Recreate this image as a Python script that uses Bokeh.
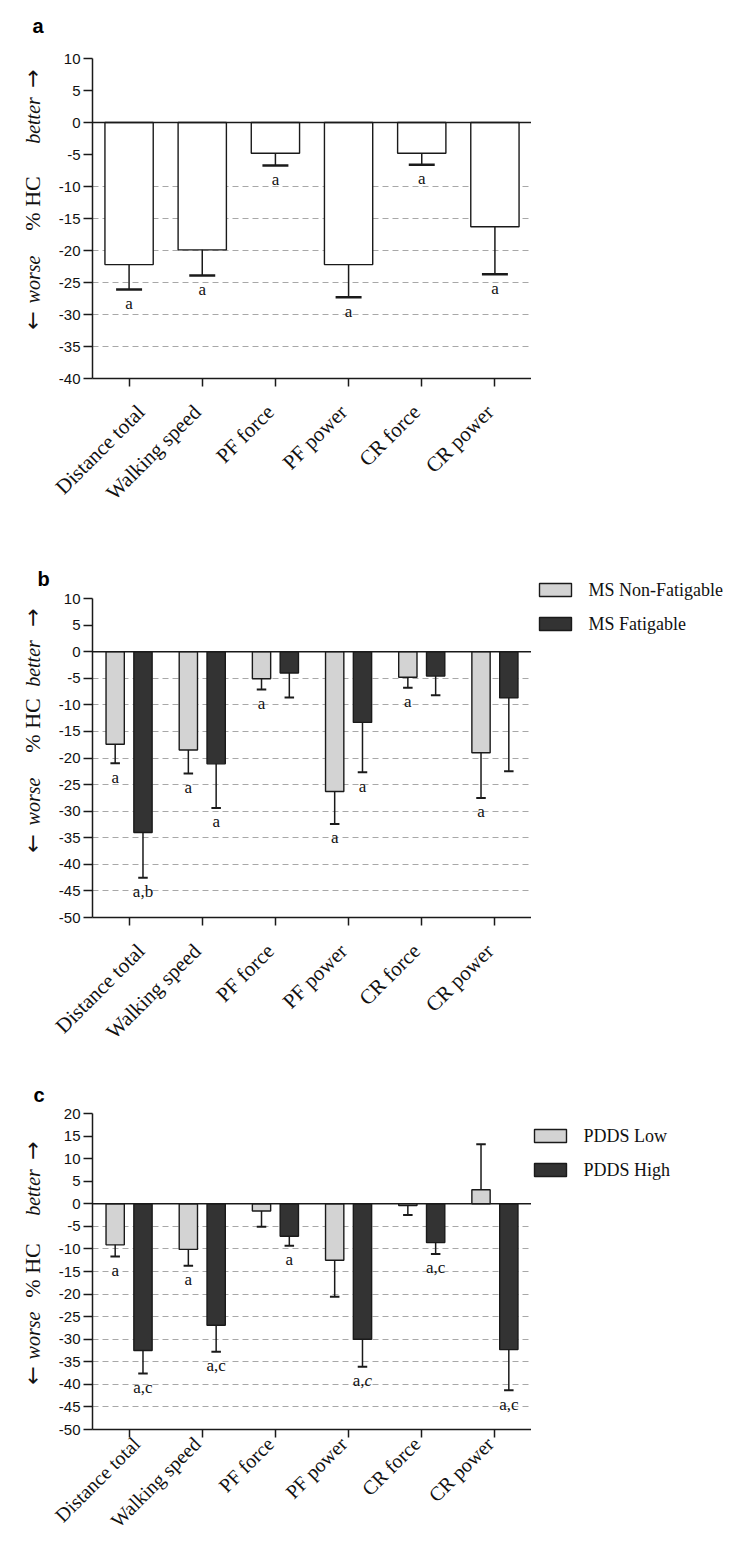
import numpy as np
from bokeh.plotting import figure
from bokeh.models import (ColumnDataSource, Range1d, FixedTicker, Span, LinearAxis)
from bokeh.transform import dodge
from bokeh.layouts import column, row
from bokeh.embed import file_html
from bokeh.resources import INLINE
from bokeh.core.properties import value

# ---------------- data ----------------
categories = ["Distance total", "Walking speed", "PF force", "PF power", "CR force", "CR power"]

# panel a : all MS vs HC
a_mean = [-22.2, -19.9, -4.8, -22.2, -4.8, -16.3]
a_err_end = [-26.1, -23.9, -6.7, -27.3, -6.6, -23.7]
a_annot = ["a", "a", "a", "a", "a", "a"]

# panel b : fatigability groups
b_names = ["MS Non-Fatigable", "MS Fatigable"]
b_nf_mean = [-17.4, -18.5, -5.1, -26.3, -4.8, -19.0]
b_nf_err_end = [-21.0, -22.9, -7.1, -32.4, -6.8, -27.5]
b_nf_annot = ["a", "a", "a", "a", "a", "a"]
b_f_mean = [-34.0, -21.1, -4.0, -13.3, -4.6, -8.7]
b_f_err_end = [-42.5, -29.4, -8.6, -22.7, -8.2, -22.5]
b_f_annot = ["a,b", "a", "", "a", "", ""]

# panel c : PDDS groups
c_names = ["PDDS Low", "PDDS High"]
c_low_mean = [-9.1, -10.1, -1.6, -12.5, -0.4, 3.1]
c_low_err_end = [-11.7, -13.7, -5.1, -20.6, -2.5, 13.2]
c_low_annot = ["a", "a", "", "", "", ""]
c_high_mean = [-32.5, -26.9, -7.2, -30.0, -8.6, -32.3]
c_high_err_end = [-37.6, -32.8, -9.3, -36.1, -11.1, -41.3]
c_high_annot = ["a,c", "a,c", "a", "a,c", "a,c", "a,c"]
c_high_italic_c = [False, False, False, True, False, False]

# ---------------- style / layout ----------------
N = len(categories)
POS = [i + 0.5 for i in range(N)]     # category slots on the x scale
LEFT_W = 50          # strip: panel letter + y title
MAIN_BORDER_L = 42   # room for the y tick labels
FRAME_W = 439
MAIN_W = MAIN_BORDER_L + FRAME_W
RIGHT_W = 739 - LEFT_W - MAIN_W   # strip: legend
PX_PER_CAT = FRAME_W / N
SERIF = "Liberation Serif"
SANS = "Liberation Sans"
ARROW_FONT = "DejaVu Sans"
LIGHT = "#d3d3d3"
DARK = "#333333"
EDGE = "#1a1a1a"
TXT = "#111111"


def strip(width, height, span_h):
    """Figure whose frame lines up with the panel frame; data units = pixels from panel top."""
    f = figure(width=width, height=height, x_range=Range1d(0, width), y_range=Range1d(0, span_h),
               output_backend="svg", toolbar_location=None, x_axis_location=None,
               y_axis_location=None, min_border=0, title=None)
    f.outline_line_color = None
    f.grid.grid_line_color = None
    f.background_fill_color = "white"
    f.border_fill_color = "white"
    return f


def left_strip(height, span_h, row_top, letter, letter_xy, pieces):
    f = strip(LEFT_W, height, span_h)
    f.text(x=[letter_xy[0]], y=[span_h - (letter_xy[1] - row_top)], text=[letter],
           text_font=value(SANS), text_font_size="20px", text_font_style="bold",
           text_align="left", text_baseline="alphabetic", text_color="black")
    styles = {"\u2190": (ARROW_FONT, "normal", "22px"), "\u2192": (ARROW_FONT, "normal", "22px"),
              "worse": (SERIF, "italic", "20px"), "better": (SERIF, "italic", "20px"),
              "% HC": (SERIF, "normal", "22px")}
    for txt, page_y in pieces:
        font, style, size = styles[txt]
        f.text(x=[32], y=[span_h - (page_y - row_top)], text=[txt], angle=np.pi / 2,
               text_font=value(font), text_font_size=size, text_font_style=style,
               text_align="center", text_baseline="alphabetic", text_color=TXT)
    return f


def right_strip(height, span_h, row_top, names, colors, box_x, box1_top, pitch, text_x):
    f = strip(RIGHT_W, height, span_h)
    if names:
        tops = [box1_top - row_top, box1_top - row_top + pitch]
        f.quad(left=[box_x] * 2, right=[box_x + 32] * 2,
               top=[span_h - t for t in tops], bottom=[span_h - t - 13 for t in tops],
               fill_color=colors, line_color=EDGE, line_width=1.4)
        f.text(x=[text_x] * 2, y=[span_h - t - 6.5 for t in tops], text=names,
               text_font=value(SERIF), text_font_size="18px", text_align="left",
               text_baseline="middle", text_color=TXT)
    return f


def main_panel(ymin, ymax, grid_levels, height, top_px, frame_h, label_standoff, label_size):
    """Frame starts at the row top; the y axis itself is bounded to [ymin, ymax]."""
    ppu = frame_h / (ymax - ymin)
    ytop = ymax + top_px / ppu
    p = figure(x_range=Range1d(0, N), y_range=Range1d(ymin, ytop),
               width=MAIN_W, height=height, output_backend="svg", toolbar_location=None,
               min_border_left=MAIN_BORDER_L, min_border_right=0, title=None,
               min_border_top=0, min_border_bottom=height - top_px - frame_h)
    p.outline_line_color = None
    p.background_fill_color = "white"
    p.border_fill_color = "white"
    p.xgrid.grid_line_color = None
    p.ygrid.ticker = FixedTicker(ticks=grid_levels)
    p.ygrid.grid_line_color = "#a8a8a8"
    p.ygrid.grid_line_dash = "6 4"
    p.ygrid.grid_line_width = 1
    ticks = list(range(ymin, ymax + 1, 5))
    p.yaxis.ticker = FixedTicker(ticks=ticks)
    p.yaxis.bounds = (ymin, ymax)
    p.yaxis.major_label_overrides = {t: str(t) for t in ticks}
    for ax in (p.xaxis[0], p.yaxis[0]):
        ax.axis_line_color = EDGE
        ax.axis_line_width = 1.5
        ax.major_tick_line_color = EDGE
        ax.major_tick_line_width = 1.5
        ax.major_tick_out = 9
        ax.major_tick_in = 0
        ax.minor_tick_line_color = None
    p.yaxis.major_label_text_font = SANS
    p.yaxis.major_label_text_font_size = "15px"
    p.yaxis.major_label_text_color = TXT
    p.yaxis.major_label_standoff = 3
    # category axis: ticks at the slots, no text
    xa = p.xaxis[0]
    xa.ticker = FixedTicker(ticks=POS)
    xa.major_tick_out = 8
    xa.major_label_overrides = {t: "" for t in POS}
    xa.major_label_text_font_size = "0px"
    xa.major_label_standoff = 0
    # category names: second axis on a range nudged so names sit slightly left
    shift = 5 / PX_PER_CAT
    p.extra_x_ranges = {"lab": Range1d(shift, N + shift)}
    lab = LinearAxis(x_range_name="lab", ticker=FixedTicker(ticks=POS),
                     major_label_overrides={t: c for t, c in zip(POS, categories)})
    lab.axis_line_color = None
    lab.major_tick_line_color = None
    lab.minor_tick_line_color = None
    lab.major_tick_out = 0
    lab.major_tick_in = 0
    lab.major_label_orientation = np.pi / 4
    lab.major_label_text_font = SERIF
    lab.major_label_text_font_size = label_size
    lab.major_label_text_color = TXT
    lab.major_label_standoff = label_standoff
    p.add_layout(lab, "below")
    p.add_layout(Span(location=0, dimension="width", line_color=EDGE, line_width=1.5))
    return p


def add_bars(p, mean, err_end, annot, offset, bar_w, cap_w, fill, cap_lw, italic_c=None):
    src = ColumnDataSource(dict(pos=POS, mean=mean, err=err_end))
    p.vbar(x=dodge("pos", offset), top="mean", bottom=0, width=bar_w, source=src,
           fill_color=fill, line_color=EDGE, line_width=1.4)
    p.segment(x0=dodge("pos", offset), y0="mean", x1=dodge("pos", offset),
              y1="err", source=src, line_color=EDGE, line_width=1.5)
    p.segment(x0=dodge("pos", offset - cap_w / 2), y0="err",
              x1=dodge("pos", offset + cap_w / 2), y1="err", source=src,
              line_color=EDGE, line_width=cap_lw)
    if italic_c is None:
        italic_c = [False] * N
    plain = [a if not it else "" for a, it in zip(annot, italic_c)]
    src_t = ColumnDataSource(dict(pos=POS, err=err_end, ann=plain))
    p.text(x=dodge("pos", offset), y="err", text="ann", source=src_t, y_offset=14,
           text_align="center", text_baseline="middle", text_font=value(SERIF),
           text_font_size="17px", text_color=TXT)
    pos_it = [c for c, it in zip(POS, italic_c) if it]
    if pos_it:
        errs_it = [e for e, it in zip(err_end, italic_c) if it]
        anns_it = [a for a, it in zip(annot, italic_c) if it]
        s2 = ColumnDataSource(dict(pos=pos_it, err=errs_it,
                                   head=[a[:-1] for a in anns_it], tail=[a[-1] for a in anns_it]))
        p.text(x=dodge("pos", offset), y="err", text="head", source=s2, y_offset=14,
               x_offset=2, text_align="right", text_baseline="middle", text_font=value(SERIF),
               text_font_size="17px", text_color=TXT)
        p.text(x=dodge("pos", offset), y="err", text="tail", source=s2, y_offset=14,
               x_offset=2, text_align="left", text_baseline="middle", text_font=value(SERIF),
               text_font_size="17px", text_font_style="italic", text_color=TXT)


# ---------------- panel a (page rows 0..560) ----------------
RA, HA, FA = 0, 560, 320
TA = 58 - RA
pa = main_panel(-40, 10, [-10, -15, -20, -25, -30, -35], HA, TA, FA, 22, "21px")
add_bars(pa, a_mean, a_err_end, a_annot, 0.0, 0.66, 0.355, "white", 2.5)
la = left_strip(HA, TA + FA, RA, "a", (32, 25),
                [("\u2190", 320), ("worse", 279), ("% HC", 203), ("better", 120), ("\u2192", 78)])
ra = right_strip(HA, TA + FA, RA, [], [], 0, 0, 0, 0)

# ---------------- panel b (page rows 560..1075) ----------------
RB, HB, FB = 560, 515, 319
TB = 598 - RB
pb = main_panel(-50, 10, [-5, -10, -15, -20, -25, -30, -35, -40, -45], HB, TB, FB, 22, "21px")
add_bars(pb, b_nf_mean, b_nf_err_end, b_nf_annot, -0.19, 0.25, 0.13, LIGHT, 2)
add_bars(pb, b_f_mean, b_f_err_end, b_f_annot, 0.19, 0.25, 0.13, DARK, 2)
lb = left_strip(HB, TB + FB, RB, "b", (37, 578),
                [("\u2190", 843), ("worse", 801), ("% HC", 725), ("better", 663), ("\u2192", 617)])
rb = right_strip(HB, TB + FB, RB, b_names, [LIGHT, DARK], 8, 583, 34, 57)

# ---------------- panel c (page rows 1075..1543) ----------------
RC, HC, FC = 1075, 468, 316
TC = 1113 - RC
pc = main_panel(-50, 20, [-5, -10, -15, -20, -25, -30, -35, -40, -45], HC, TC, FC, 3, "20px")
add_bars(pc, c_low_mean, c_low_err_end, c_low_annot, -0.19, 0.25, 0.13, LIGHT, 2)
add_bars(pc, c_high_mean, c_high_err_end, c_high_annot, 0.19, 0.25, 0.13, DARK, 2,
         italic_c=c_high_italic_c)
lc = left_strip(HC, TC + FC, RC, "c", (33, 1094),
                [("\u2190", 1375), ("worse", 1335), ("% HC", 1270), ("better", 1192),
                 ("\u2192", 1150)])
rc = right_strip(HC, TC + FC, RC, c_names, [LIGHT, DARK], 3, 1129, 34, 52)

layout = column(row(la, pa, ra, spacing=0), row(lb, pb, rb, spacing=0),
                row(lc, pc, rc, spacing=0), spacing=0)
open("out.html", "w").write(file_html(layout, INLINE))
